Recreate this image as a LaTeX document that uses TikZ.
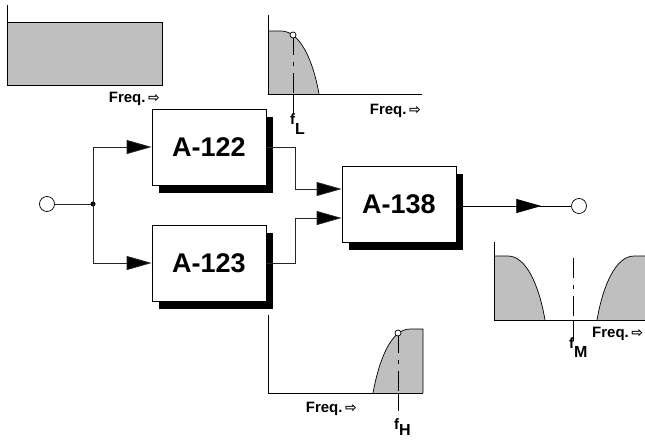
\documentclass[tikz,border=0pt]{standalone}
\usepackage{fontspec}
\setmainfont{Liberation Sans}
\newfontfamily\arrowfont{DejaVu Sans}
\usetikzlibrary{arrows.meta,shadows,decorations.markings}
\begin{document}
\begin{tikzpicture}[x=1pt,y=-1pt,
  blk/.style={draw=black, line width=0.8pt, fill=white, minimum width=114pt, minimum height=76pt, inner sep=0pt,
    font=\fontsize{27}{27}\bfseries\selectfont,
    general shadow={fill=black, shadow xshift=7pt, shadow yshift=-8pt}},
  conn/.style={draw=black!85, line width=0.8pt},
  arr/.style={-{Triangle[length=25pt,width=14pt,fill=black]}},
  midarr/.style={postaction={decorate}, decoration={markings, mark=at position #1 with {\arrow{Triangle[length=25pt,width=14pt,fill=black]}}}},
  term/.style={circle, draw=black, line width=0.7pt, fill=white, minimum size=15pt, inner sep=0pt},
  axis/.style={draw=black, line width=0.8pt},
  band/.style={fill=black!25},
  edge/.style={draw=black, line width=0.7pt},
  dd/.style={draw=black, line width=0.7pt, dash pattern=on 20pt off 7pt on 4pt off 7pt},
  freq/.style={font=\fontsize{15}{15}\bfseries\selectfont, inner sep=0pt},
  flab/.style={font=\fontsize{15}{15}\bfseries\selectfont, inner sep=0pt, anchor=base west},
  dotmark/.style={circle, draw=black, line width=0.7pt, fill=white, minimum size=6pt, inner sep=0pt}
]
\useasboundingbox (0,0) rectangle (645,439);

% ---------- top-left spectrum ----------
\fill[band] (7,22) rectangle (162,85);
\draw[edge] (7,22) rectangle (162,85);
\draw[axis] (7,5) -- (7,85);
\node[freq, anchor=base east] (fq1) at (160,102) {Freq.\,{\arrowfont\fontsize{14}{14}\selectfont ⇨}};

% ---------- top-middle spectrum (low pass) ----------
\fill[band] (268,94) -- (268,31) -- (281,31) .. controls (300,31) and (313,60) .. (319,94) -- cycle;
\draw[edge] (268,31) -- (281,31) .. controls (300,31) and (313,60) .. (319,94);
\draw[axis] (268,15) -- (268,94) -- (422,94);
\draw[dd] (293,35) -- (293,94);
\draw[axis] (293,94) -- (293,113);
\node[dotmark] (mL) at (293,35) {};
\node[freq, anchor=base east] (fq2) at (421,114) {Freq.\,{\arrowfont\fontsize{14}{14}\selectfont ⇨}};
\node[flab] (fL) at (290,124) {f\raisebox{-10pt}{\fontsize{16}{16}\selectfont L}};

% ---------- bottom spectrum (high pass) ----------
\fill[band] (373,393) .. controls (379,360) and (391,329) .. (410,329) -- (423,329) -- (423,393) -- cycle;
\draw[edge] (373,393) .. controls (379,360) and (391,329) .. (410,329) -- (423,329) -- (423,393);
\draw[axis] (268,315) -- (268,393) -- (423,393);
\draw[dd] (398,333) -- (398,393);
\draw[axis] (398,393) -- (398,411);
\node[dotmark] (mH) at (398,333) {};
\node[freq, anchor=base east] (fq3) at (357,412) {Freq.\,{\arrowfont\fontsize{14}{14}\selectfont ⇨}};
\node[flab] (fH) at (394,429) {f\raisebox{-6pt}{\fontsize{16}{16}\selectfont H}};

% ---------- right spectrum (band stop) ----------
\fill[band] (494,320) -- (494,256) -- (508,256) .. controls (526,256) and (539,285) .. (545,320) -- cycle;
\draw[edge] (494,256) -- (508,256) .. controls (526,256) and (539,285) .. (545,320);
\fill[band] (597,320) .. controls (603,285) and (616,256) .. (634,256) -- (646,256) -- (646,320) -- cycle;
\draw[edge] (597,320) .. controls (603,285) and (616,256) .. (634,256) -- (646,256);
\draw[axis] (494,242) -- (494,320) -- (646,320);
\draw[dd] (573,258) -- (573,320);
\draw[axis] (573,320) -- (573,340);
\node[freq, anchor=base west] (fq4) at (592,337) {Freq.\,{\arrowfont\fontsize{14}{14}\selectfont ⇨}};
\node[flab] (fM) at (569,348) {f\raisebox{-9pt}{\fontsize{16}{16}\selectfont M}};

% ---------- blocks ----------
\node[blk] (a122) at (209,147) {A-122};
\node[blk] (a123) at (209,263) {A-123};
\node[blk] (a138) at (399,204) {A-138};

% ---------- terminals and connectors ----------
\node[term] (in) at (47,204) {};
\node[term] (out) at (579,206) {};
\coordinate (j) at (93,204);
\coordinate (in1) at ([yshift=15pt]a138.west);
\coordinate (in2) at ([yshift=-14pt]a138.west);

\draw[conn] (in) -- (j);
\fill (j) circle (2.5pt);
\draw[conn, arr] (j) |- (a122.west);
\draw[conn, arr] (j) |- (a123.west);
\draw[conn, arr] (a122.east) -- ++(29,0) |- (in1);
\draw[conn, arr] (a123.east) -- ++(29,0) |- (in2);
\draw[conn, draw=black, midarr=0.74] (a138.east |- out) -- (out);
\end{tikzpicture}
\end{document}
